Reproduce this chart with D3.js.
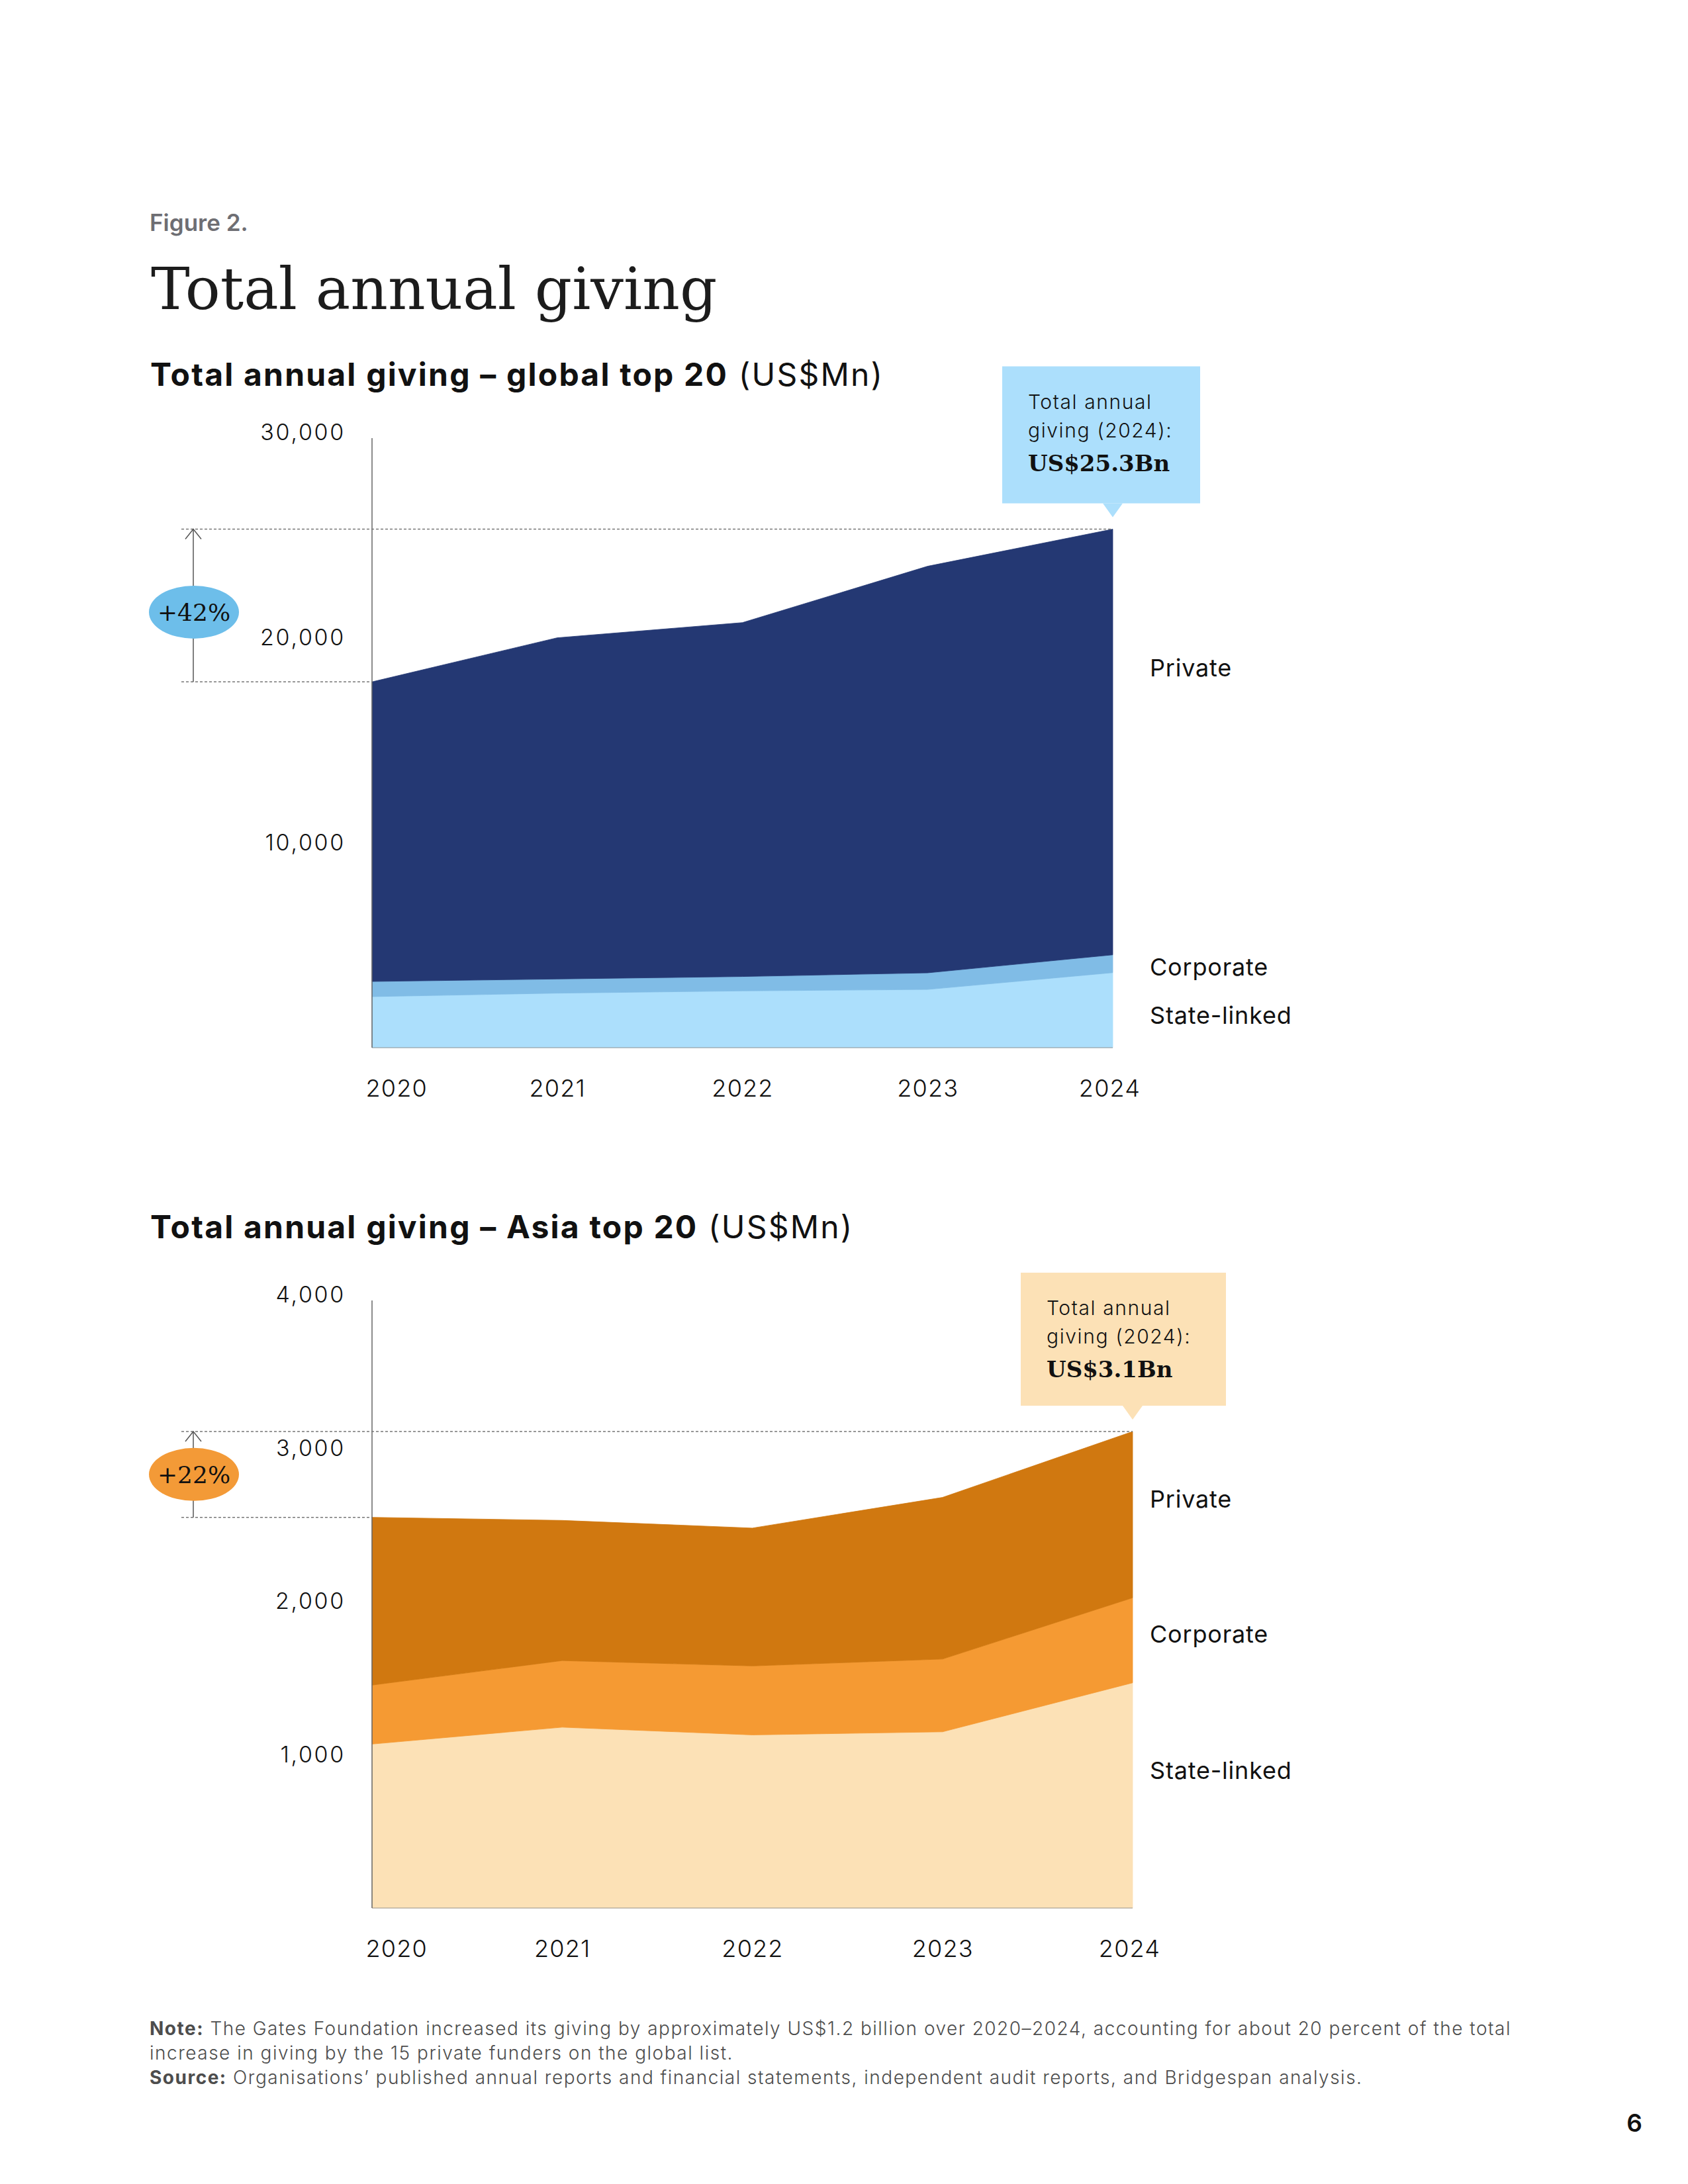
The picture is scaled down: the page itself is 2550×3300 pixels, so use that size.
<!DOCTYPE html>
<html>
<head>
<meta charset="utf-8">
<script src="https://cdn.jsdelivr.net/npm/d3@7"></script>
<style>
  body { margin: 0; background: #fff; }
</style>
</head>
<body>
<div id="page"></div>
<script>
// ---- data (US$Mn) ----
var years = [2020, 2021, 2022, 2023, 2024];
var seriesKeys = ["State-linked", "Corporate", "Private"];

var globalStateLinked = [2490, 2660, 2770, 2840, 3660];
var globalCorporate = [740, 690, 700, 810, 870];
var globalPrivate = [14620, 16650, 17270, 19840, 20770];
var globalTicks = [10000, 20000, 30000];

var asiaStateLinked = [1070, 1180, 1130, 1150, 1470];
var asiaCorporate = [385, 435, 450, 475, 555];
var asiaPrivate = [1095, 915, 900, 1055, 1085];
var asiaTicks = [1000, 2000, 3000, 4000];

// where the series names sit on the right (in data units)
var globalLabelValues = [1580, 3940, 18550];
var asiaLabelValues = [900, 1790, 2670];

var sans = "Inter, 'Noto Sans', sans-serif";
var serif = "'DejaVu Serif', serif";

var svg = d3.select("#page")
  .append("svg")
  .attr("width", 2550)
  .attr("height", 3300);

// header
svg.append("text")
  .attr("x", 226).attr("y", 349)
  .attr("font-family", sans).attr("font-size", 35).attr("font-weight", 600)
  .attr("fill", "#6e6e73")
  .text("Figure 2.");

svg.append("text")
  .attr("x", 228).attr("y", 467)
  .attr("font-family", serif).attr("font-size", 88)
  .attr("fill", "#1c1c1c")
  .text("Total annual giving");

function drawChart(o) {
  var rows = years.map(function(yr, i) {
    return { year: yr, "State-linked": o.state[i], "Corporate": o.corporate[i], "Private": o.priv[i] };
  });
  var stacked = d3.stack().keys(seriesKeys)(rows);

  var x = d3.scaleLinear().domain([2020, 2024]).range(o.xRange);
  var y = d3.scaleLinear().domain([0, o.yMax]).range(o.yRange);

  var g = svg.append("g");

  // subtitle
  var sub = g.append("text")
    .attr("x", 227).attr("y", o.titleY)
    .attr("font-family", sans).attr("font-size", 48)
    .attr("letter-spacing", 2.2)
    .attr("fill", "#111");
  sub.append("tspan").attr("font-weight", 700).text(o.titleBold);
  sub.append("tspan").attr("font-weight", 400).text(" (US$Mn)");

  // areas
  var area = d3.area()
    .x(function(d) { return x(d.data.year); })
    .y0(function(d) { return y(d[0]); })
    .y1(function(d) { return y(d[1]); });

  g.selectAll(".band")
    .data(stacked)
    .enter()
    .append("path")
    .attr("class", "band")
    .attr("d", area)
    .attr("fill", function(d, i) { return o.colors[i]; })
    .attr("stroke", function(d, i) { return o.colors[i]; })
    .attr("stroke-width", 0.8);

  // baseline under the areas
  g.append("line")
    .attr("x1", o.xRange[0]).attr("x2", o.xRange[1])
    .attr("y1", y(0)).attr("y2", y(0))
    .attr("stroke", "#8c8c8c").attr("stroke-opacity", 0.6).attr("stroke-width", 1.5);

  // y axis line
  g.append("line")
    .attr("x1", o.xRange[0]).attr("x2", o.xRange[0])
    .attr("y1", y(o.yMax) + 8).attr("y2", y(0))
    .attr("stroke", "#666").attr("stroke-width", 1.5);

  // y tick labels
  var leftAxis = d3.axisLeft(y)
    .tickValues(o.ticks)
    .tickSize(0)
    .tickPadding(0)
    .tickFormat(d3.format(","));
  var yAxis = g.append("g")
    .attr("transform", "translate(522,0)")
    .call(leftAxis);
  yAxis.select(".domain").remove();
  yAxis.selectAll("text")
    .attr("font-family", sans).attr("font-size", 34).attr("font-weight", 300)
    .attr("letter-spacing", 2.7)
    .attr("fill", "#111");

  // x tick labels
  var bottomAxis = d3.axisBottom(x)
    .tickValues(years)
    .tickSize(0)
    .tickPadding(48)
    .tickFormat(d3.format("d"));
  var xAxis = g.append("g")
    .attr("transform", "translate(0," + y(0) + ")")
    .call(bottomAxis);
  xAxis.select(".domain").remove();
  xAxis.selectAll("text")
    .attr("font-family", sans).attr("font-size", 36).attr("font-weight", 300)
    .attr("letter-spacing", 1.2)
    .attr("fill", "#111");
  xAxis.selectAll("text").filter(function(d) { return d === 2020; })
    .attr("text-anchor", "start").attr("x", -10);
  xAxis.selectAll("text").filter(function(d) { return d === 2024; })
    .attr("x", -5);

  // growth guides
  var firstTotal = y(stacked[2][0][1]);
  var lastTotal = y(stacked[2][4][1]);
  var guideX = 292;

  g.append("line")
    .attr("x1", 274).attr("x2", x(2024))
    .attr("y1", lastTotal).attr("y2", lastTotal)
    .attr("stroke", "#777").attr("stroke-width", 1.5).attr("stroke-dasharray", "4,3");
  g.append("line")
    .attr("x1", 274).attr("x2", x(2020))
    .attr("y1", firstTotal).attr("y2", firstTotal)
    .attr("stroke", "#777").attr("stroke-width", 1.5).attr("stroke-dasharray", "4,3");

  g.append("line")
    .attr("x1", guideX).attr("x2", guideX)
    .attr("y1", firstTotal).attr("y2", lastTotal)
    .attr("stroke", "#555").attr("stroke-width", 1.5);
  g.append("path")
    .attr("d", "M" + (guideX - 12) + "," + (lastTotal + 15) + "L" + guideX + "," + lastTotal + "L" + (guideX + 12) + "," + (lastTotal + 15))
    .attr("fill", "none").attr("stroke", "#555").attr("stroke-width", 1.5);

  var badgeY = (firstTotal + lastTotal) / 2 + o.badgeShift;
  g.append("ellipse")
    .attr("cx", guideX + 1).attr("cy", badgeY)
    .attr("rx", 68).attr("ry", 40)
    .attr("fill", o.badgeColor);
  g.append("text")
    .attr("x", guideX + 1).attr("y", badgeY)
    .attr("dy", "0.36em")
    .attr("text-anchor", "middle")
    .attr("font-family", serif).attr("font-size", 36)
    .attr("fill", "#111")
    .text(o.badgeText);

  // callout
  var tipX = x(2024);
  var tipY = lastTotal - 18;
  var boxBottom = tipY - 21;
  var boxTop = boxBottom - o.boxH;
  var boxLeft = tipX - o.boxOffset;

  g.append("rect")
    .attr("x", boxLeft).attr("y", boxTop)
    .attr("width", o.boxW).attr("height", o.boxH)
    .attr("fill", o.boxColor);
  g.append("path")
    .attr("d", "M" + (tipX - 15) + "," + boxBottom + "L" + tipX + "," + tipY + "L" + (tipX + 15) + "," + boxBottom + "Z")
    .attr("fill", o.boxColor);

  var lines = ["Total annual", "giving (2024):"];
  g.selectAll(".calloutLine")
    .data(lines)
    .enter()
    .append("text")
    .attr("class", "calloutLine")
    .attr("x", boxLeft + 39)
    .attr("y", function(d, i) { return boxTop + 64 + i * 43; })
    .attr("font-family", sans).attr("font-size", 30).attr("font-weight", 300)
    .attr("letter-spacing", 1.6)
    .attr("fill", "#111")
    .text(function(d) { return d; });
  g.append("text")
    .attr("x", boxLeft + 39).attr("y", boxTop + 158)
    .attr("font-family", serif).attr("font-size", 34).attr("font-weight", 700)
    .attr("fill", "#111")
    .text(o.calloutValue);

  // series names
  g.selectAll(".seriesName")
    .data(seriesKeys)
    .enter()
    .append("text")
    .attr("class", "seriesName")
    .attr("x", 1737)
    .attr("y", function(d, i) { return y(o.labelValues[i]); })
    .attr("dy", "0.36em")
    .attr("font-family", sans).attr("font-size", 36).attr("font-weight", 400)
    .attr("letter-spacing", 0.8)
    .attr("fill", "#111")
    .text(function(d) { return d; });
}

drawChart({
  titleY: 583,
  titleBold: "Total annual giving \u2013 global top 20",
  state: globalStateLinked, corporate: globalCorporate, priv: globalPrivate,
  colors: ["#acdffc", "#80bce6", "#243873"],
  yMax: 30000, yRange: [1583, 654], xRange: [562, 1681],
  ticks: globalTicks,
  labelValues: globalLabelValues,
  badgeText: "+42%", badgeColor: "#6dbeea", badgeShift: 10,
  boxColor: "#acdffc", boxW: 299, boxH: 207, boxOffset: 167,
  calloutValue: "US$25.3Bn"
});

drawChart({
  titleY: 1871,
  titleBold: "Total annual giving \u2013 Asia top 20",
  state: asiaStateLinked, corporate: asiaCorporate, priv: asiaPrivate,
  colors: ["#fce1b6", "#f59a33", "#d07810"],
  yMax: 4000, yRange: [2883, 1957], xRange: [562, 1711],
  ticks: asiaTicks,
  labelValues: asiaLabelValues,
  badgeText: "+22%", badgeColor: "#f39a37", badgeShift: 0,
  boxColor: "#fce1b6", boxW: 310, boxH: 201, boxOffset: 169,
  calloutValue: "US$3.1Bn"
});

// notes
var notes = [
  { bold: "Note:", text: " The Gates Foundation increased its giving by approximately US$1.2 billion over 2020\u20132024, accounting for about 20 percent of the total" },
  { bold: "", text: "increase in giving by the 15 private funders on the global list." },
  { bold: "Source:", text: " Organisations\u2019 published annual reports and financial statements, independent audit reports, and Bridgespan analysis." }
];

var noteText = svg.selectAll(".note")
  .data(notes)
  .enter()
  .append("text")
  .attr("class", "note")
  .attr("x", 226)
  .attr("y", function(d, i) { return 3075 + i * 37; })
  .attr("font-family", sans).attr("font-size", 28)
  .attr("letter-spacing", 1.5)
  .attr("fill", "#4d4d4d");
noteText.append("tspan").attr("font-weight", 700).text(function(d) { return d.bold; });
noteText.append("tspan").attr("font-weight", 300).text(function(d) { return d.text; });

svg.append("text")
  .attr("x", 2469).attr("y", 3221)
  .attr("text-anchor", "middle")
  .attr("font-family", sans).attr("font-size", 37).attr("font-weight", 600)
  .attr("fill", "#111")
  .text("6");
</script>
</body>
</html>
